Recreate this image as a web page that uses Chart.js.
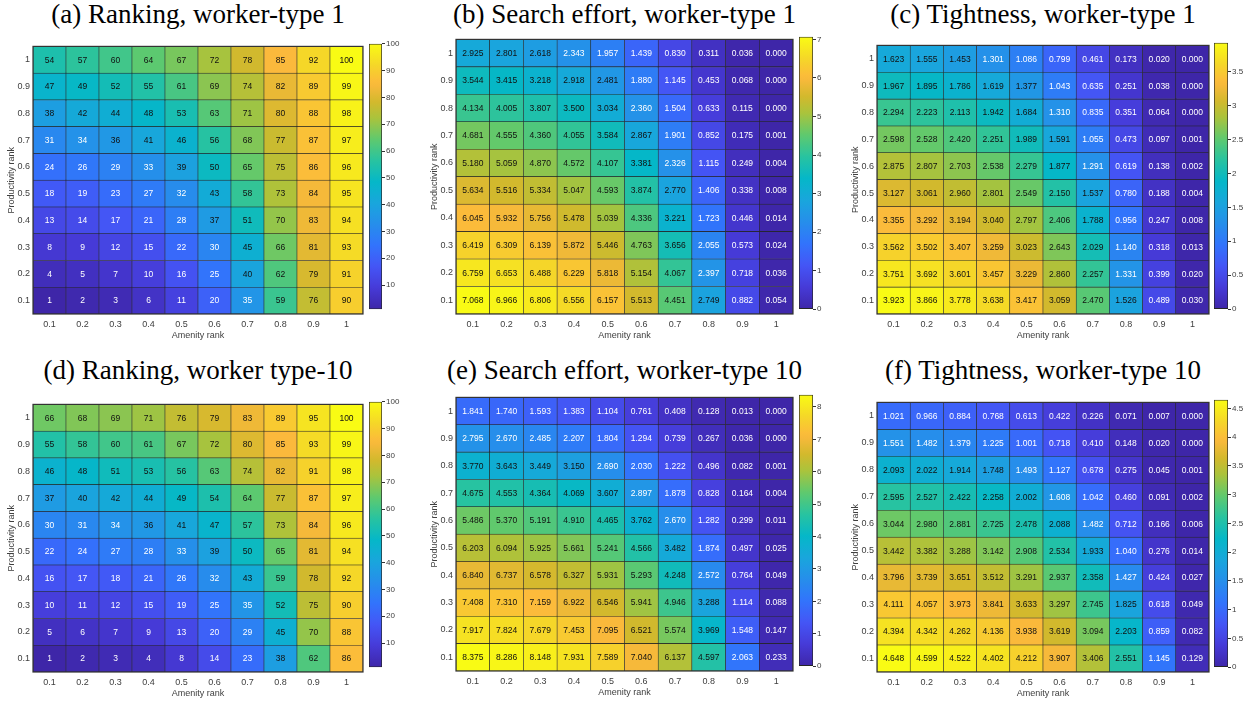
<!DOCTYPE html>
<html>
<head>
<meta charset="utf-8">
<script src="https://cdn.jsdelivr.net/npm/chart.js@4.4.1/dist/chart.umd.min.js"></script>
<style>
  body { margin: 0; background: #fff; }
  #page { position: relative; width: 1250px; height: 701px; overflow: hidden; }
  .box { position: absolute; }
  .ttl {
    position: absolute; transform: translate(-50%, -50%);
    font-family: "Liberation Serif", "Times New Roman", serif;
    font-size: 27px; line-height: 1; white-space: nowrap; color: #000;
  }
</style>
</head>
<body>
<div id="page"></div>
<script>
const amenityLabels = ['0.1', '0.2', '0.3', '0.4', '0.5', '0.6', '0.7', '0.8', '0.9', '1'];
const prodLabels = ['0.1', '0.2', '0.3', '0.4', '0.5', '0.6', '0.7', '0.8', '0.9', '1'];

const titles = [
  '(a) Ranking, worker-type 1',
  '(b) Search effort, worker-type 1',
  '(c) Tightness, worker-type 1',
  '(d) Ranking, worker type-10',
  '(e) Search effort, worker-type 10',
  '(f) Tightness, worker-type 10'
];

// rows listed top (productivity 1) to bottom (0.1)
const rankType1 = [
  [54, 57, 60, 64, 67, 72, 78, 85, 92, 100],
  [47, 49, 52, 55, 61, 69, 74, 82, 89, 99],
  [38, 42, 44, 48, 53, 63, 71, 80, 88, 98],
  [31, 34, 36, 41, 46, 56, 68, 77, 87, 97],
  [24, 26, 29, 33, 39, 50, 65, 75, 86, 96],
  [18, 19, 23, 27, 32, 43, 58, 73, 84, 95],
  [13, 14, 17, 21, 28, 37, 51, 70, 83, 94],
  [8, 9, 12, 15, 22, 30, 45, 66, 81, 93],
  [4, 5, 7, 10, 16, 25, 40, 62, 79, 91],
  [1, 2, 3, 6, 11, 20, 35, 59, 76, 90]
];
const searchType1 = [
  [2.925, 2.801, 2.618, 2.343, 1.957, 1.439, 0.830, 0.311, 0.036, 0.000],
  [3.544, 3.415, 3.218, 2.918, 2.481, 1.880, 1.145, 0.453, 0.068, 0.000],
  [4.134, 4.005, 3.807, 3.500, 3.034, 2.360, 1.504, 0.633, 0.115, 0.000],
  [4.681, 4.555, 4.360, 4.055, 3.584, 2.867, 1.901, 0.852, 0.175, 0.001],
  [5.180, 5.059, 4.870, 4.572, 4.107, 3.381, 2.326, 1.115, 0.249, 0.004],
  [5.634, 5.516, 5.334, 5.047, 4.593, 3.874, 2.770, 1.406, 0.338, 0.008],
  [6.045, 5.932, 5.756, 5.478, 5.039, 4.336, 3.221, 1.723, 0.446, 0.014],
  [6.419, 6.309, 6.139, 5.872, 5.446, 4.763, 3.656, 2.055, 0.573, 0.024],
  [6.759, 6.653, 6.488, 6.229, 5.818, 5.154, 4.067, 2.397, 0.718, 0.036],
  [7.068, 6.966, 6.806, 6.556, 6.157, 5.513, 4.451, 2.749, 0.882, 0.054]
];
const tightType1 = [
  [1.623, 1.555, 1.453, 1.301, 1.086, 0.799, 0.461, 0.173, 0.020, 0.000],
  [1.967, 1.895, 1.786, 1.619, 1.377, 1.043, 0.635, 0.251, 0.038, 0.000],
  [2.294, 2.223, 2.113, 1.942, 1.684, 1.310, 0.835, 0.351, 0.064, 0.000],
  [2.598, 2.528, 2.420, 2.251, 1.989, 1.591, 1.055, 0.473, 0.097, 0.001],
  [2.875, 2.807, 2.703, 2.538, 2.279, 1.877, 1.291, 0.619, 0.138, 0.002],
  [3.127, 3.061, 2.960, 2.801, 2.549, 2.150, 1.537, 0.780, 0.188, 0.004],
  [3.355, 3.292, 3.194, 3.040, 2.797, 2.406, 1.788, 0.956, 0.247, 0.008],
  [3.562, 3.502, 3.407, 3.259, 3.023, 2.643, 2.029, 1.140, 0.318, 0.013],
  [3.751, 3.692, 3.601, 3.457, 3.229, 2.860, 2.257, 1.331, 0.399, 0.020],
  [3.923, 3.866, 3.778, 3.638, 3.417, 3.059, 2.470, 1.526, 0.489, 0.030]
];
const rankType10 = [
  [66, 68, 69, 71, 76, 79, 83, 89, 95, 100],
  [55, 58, 60, 61, 67, 72, 80, 85, 93, 99],
  [46, 48, 51, 53, 56, 63, 74, 82, 91, 98],
  [37, 40, 42, 44, 49, 54, 64, 77, 87, 97],
  [30, 31, 34, 36, 41, 47, 57, 73, 84, 96],
  [22, 24, 27, 28, 33, 39, 50, 65, 81, 94],
  [16, 17, 18, 21, 26, 32, 43, 59, 78, 92],
  [10, 11, 12, 15, 19, 25, 35, 52, 75, 90],
  [5, 6, 7, 9, 13, 20, 29, 45, 70, 88],
  [1, 2, 3, 4, 8, 14, 23, 38, 62, 86]
];
const searchType10 = [
  [1.841, 1.740, 1.593, 1.383, 1.104, 0.761, 0.408, 0.128, 0.013, 0.000],
  [2.795, 2.670, 2.485, 2.207, 1.804, 1.294, 0.739, 0.267, 0.036, 0.000],
  [3.770, 3.643, 3.449, 3.150, 2.690, 2.030, 1.222, 0.496, 0.082, 0.001],
  [4.675, 4.553, 4.364, 4.069, 3.607, 2.897, 1.878, 0.828, 0.164, 0.004],
  [5.486, 5.370, 5.191, 4.910, 4.465, 3.762, 2.670, 1.282, 0.299, 0.011],
  [6.203, 6.094, 5.925, 5.661, 5.241, 4.566, 3.482, 1.874, 0.497, 0.025],
  [6.840, 6.737, 6.578, 6.327, 5.931, 5.293, 4.248, 2.572, 0.764, 0.049],
  [7.408, 7.310, 7.159, 6.922, 6.546, 5.941, 4.946, 3.288, 1.114, 0.088],
  [7.917, 7.824, 7.679, 7.453, 7.095, 6.521, 5.574, 3.969, 1.548, 0.147],
  [8.375, 8.286, 8.148, 7.931, 7.589, 7.040, 6.137, 4.597, 2.063, 0.233]
];
const tightType10 = [
  [1.021, 0.966, 0.884, 0.768, 0.613, 0.422, 0.226, 0.071, 0.007, 0.000],
  [1.551, 1.482, 1.379, 1.225, 1.001, 0.718, 0.410, 0.148, 0.020, 0.000],
  [2.093, 2.022, 1.914, 1.748, 1.493, 1.127, 0.678, 0.275, 0.045, 0.001],
  [2.595, 2.527, 2.422, 2.258, 2.002, 1.608, 1.042, 0.460, 0.091, 0.002],
  [3.044, 2.980, 2.881, 2.725, 2.478, 2.088, 1.482, 0.712, 0.166, 0.006],
  [3.442, 3.382, 3.288, 3.142, 2.908, 2.534, 1.933, 1.040, 0.276, 0.014],
  [3.796, 3.739, 3.651, 3.512, 3.291, 2.937, 2.358, 1.427, 0.424, 0.027],
  [4.111, 4.057, 3.973, 3.841, 3.633, 3.297, 2.745, 1.825, 0.618, 0.049],
  [4.394, 4.342, 4.262, 4.136, 3.938, 3.619, 3.094, 2.203, 0.859, 0.082],
  [4.648, 4.599, 4.522, 4.402, 4.212, 3.907, 3.406, 2.551, 1.145, 0.129]
];

const cbTicksRank = [10, 20, 30, 40, 50, 60, 70, 80, 90, 100];
const cbTicksSearch1 = [0, 1, 2, 3, 4, 5, 6, 7];
const cbTicksTight1 = [0, 0.5, 1, 1.5, 2, 2.5, 3, 3.5];
const cbTicksSearch10 = [0, 1, 2, 3, 4, 5, 6, 7, 8];
const cbTicksTight10 = [0, 0.5, 1, 1.5, 2, 2.5, 3, 3.5, 4, 4.5];

// parula-like colour map
const parulaStops = [
  [0.00, [62, 38, 168]],
  [0.08, [70, 58, 215]],
  [0.16, [68, 85, 245]],
  [0.24, [50, 115, 252]],
  [0.32, [38, 142, 235]],
  [0.40, [25, 166, 220]],
  [0.48, [5, 183, 200]],
  [0.56, [40, 195, 160]],
  [0.64, [95, 201, 110]],
  [0.72, [170, 195, 60]],
  [0.78, [210, 185, 45]],
  [0.85, [252, 185, 60]],
  [0.92, [245, 215, 40]],
  [1.00, [249, 251, 20]]
];

function parula(t) {
  t = Math.max(0, Math.min(1, t));
  for (let i = 1; i < parulaStops.length; i++) {
    const [t1, c1] = parulaStops[i];
    const [t0, c0] = parulaStops[i - 1];
    if (t <= t1) {
      const f = (t - t0) / (t1 - t0);
      const c = c0.map((v, k) => Math.round(v + (c1[k] - v) * f));
      return `rgb(${c[0]},${c[1]},${c[2]})`;
    }
  }
  return 'rgb(249,251,20)';
}

Chart.defaults.font.family = '"Liberation Sans", Arial, Helvetica, sans-serif';
Chart.defaults.animation = false;

const axisFont = { size: 9 };
const axisColor = '#404040';

const panels = [
  { values: rankType1, ticks: cbTicksRank, digits: 0, plot: [33, 39, 363, 314], cb: [369, 382] },
  { values: searchType1, ticks: cbTicksSearch1, digits: 3, plot: [456, 32, 793, 314], cb: [799, 813] },
  { values: tightType1, ticks: cbTicksTight1, digits: 3, plot: [877, 38, 1209, 314], cb: [1214, 1228] },
  { values: rankType10, ticks: cbTicksRank, digits: 0, plot: [33, 397, 363, 672], cb: [369, 382] },
  { values: searchType10, ticks: cbTicksSearch10, digits: 3, plot: [456, 390, 793, 671], cb: [799, 813] },
  { values: tightType10, ticks: cbTicksTight10, digits: 3, plot: [877, 395, 1209, 672], cb: [1214, 1228] }
];

const cellText = {
  id: 'cellText',
  afterDatasetsDraw(chart) {
    const ctx = chart.ctx;
    ctx.save();
    ctx.font = '8.5px "Liberation Sans", Arial, sans-serif';
    ctx.textAlign = 'center';
    ctx.textBaseline = 'middle';
    chart.data.datasets.forEach((ds, k) => {
      chart.getDatasetMeta(k).data.forEach((bar, j) => {
        const p = bar.getCenterPoint();
        ctx.fillStyle = ds.textColors[j];
        ctx.fillText(ds.labels[j], p.x, p.y + 0.5);
      });
    });
    // outer frame
    const a = chart.chartArea;
    ctx.strokeStyle = '#333';
    ctx.lineWidth = 1.2;
    ctx.strokeRect(a.left, a.top, a.right - a.left, a.bottom - a.top);
    ctx.restore();
  }
};

const page = document.getElementById('page');

function addBox(left, top, width, height) {
  const div = document.createElement('div');
  div.className = 'box';
  Object.assign(div.style, { left: left + 'px', top: top + 'px', width: width + 'px', height: height + 'px' });
  const canvas = document.createElement('canvas');
  div.appendChild(canvas);
  page.appendChild(div);
  return canvas;
}

panels.forEach((p, n) => {
  const [L, T, R, B] = p.plot;
  const flat = p.values.flat();
  const lo = Math.min(...flat), hi = Math.max(...flat);
  const norm = v => (v - lo) / (hi - lo);

  // title
  const t = document.createElement('div');
  t.className = 'ttl';
  t.textContent = titles[n];
  t.style.left = ((L + R) / 2) + 'px';
  t.style.top = (n < 3 ? 14 : 370) + 'px';
  page.appendChild(t);

  // heat map: one floating bar per cell
  const datasets = prodLabels.map((lab, k) => {
    const row = p.values[p.values.length - 1 - k];
    return {
      label: lab,
      data: row.map(() => [k, k + 1]),
      labels: row.map(v => v.toFixed(p.digits)),
      textColors: row.map(v => norm(v) < 0.348 ? '#fff' : '#111'),
      backgroundColor: row.map(v => parula(norm(v))),
      borderColor: '#262626',
      borderWidth: 0.6,
      borderSkipped: false,
      barPercentage: 1,
      categoryPercentage: 1
    };
  });

  const yW = 33, xH = 29;
  new Chart(addBox(L - yW, T - 1, yW + (R - L) + 1, 1 + (B - T) + xH), {
    type: 'bar',
    data: { labels: amenityLabels, datasets },
    options: {
      responsive: true,
      maintainAspectRatio: false,
      layout: { padding: { top: 1, right: 1, left: 0, bottom: 0 } },
      plugins: { legend: { display: false }, tooltip: { enabled: false } },
      scales: {
        x: {
          stacked: true,
          afterFit: s => { s.height = xH; },
          grid: { display: false, drawTicks: false },
          border: { display: false },
          ticks: { font: axisFont, color: axisColor, padding: 5, maxRotation: 0 },
          title: { display: true, text: 'Amenity rank', font: axisFont, color: axisColor, padding: { top: 0, bottom: 2 } }
        },
        y: {
          min: 0, max: 10,
          afterFit: s => { s.width = yW; },
          afterBuildTicks: s => { s.ticks = prodLabels.map((_, k) => ({ value: k + 0.5 })); },
          grid: { display: false, drawTicks: false },
          border: { display: false },
          ticks: { autoSkip: false, font: axisFont, color: axisColor, padding: 3, callback: (v, i) => prodLabels[i] },
          title: { display: true, text: 'Productivity rank', font: axisFont, color: axisColor, padding: { top: 6, bottom: 0 } }
        }
      }
    },
    plugins: [cellText]
  });

  // colour bar
  const [cL, cR] = p.cb;
  const cbAxisW = 30;
  new Chart(addBox(cL, T - 1, (cR - cL) + cbAxisW, (B - T) + 2), {
    type: 'bar',
    data: {
      labels: ['colour'],
      datasets: [{
        data: [[lo, hi]],
        backgroundColor: c => {
          const a = c.chart.chartArea;
          if (!a) return '#fff';
          const g = c.chart.ctx.createLinearGradient(0, a.bottom, 0, a.top);
          for (let i = 0; i <= 50; i++) g.addColorStop(i / 50, parula(i / 50));
          return g;
        },
        borderColor: '#262626',
        borderWidth: 1,
        borderSkipped: false,
        barPercentage: 1,
        categoryPercentage: 1
      }]
    },
    options: {
      responsive: true,
      maintainAspectRatio: false,
      layout: { padding: { top: 1, bottom: 1, left: 0, right: 0 } },
      plugins: { legend: { display: false }, tooltip: { enabled: false } },
      scales: {
        x: { display: false },
        y: {
          position: 'right',
          min: lo, max: hi,
          afterFit: s => { s.width = cbAxisW; },
          afterBuildTicks: s => { s.ticks = p.ticks.map(v => ({ value: v })); },
          grid: { drawOnChartArea: false, drawTicks: true, tickLength: 3, color: '#333' },
          border: { display: false },
          ticks: { autoSkip: false, font: { size: 8 }, color: axisColor, padding: 1, callback: v => String(v) }
        }
      }
    }
  });
});
</script>
</body>
</html>
